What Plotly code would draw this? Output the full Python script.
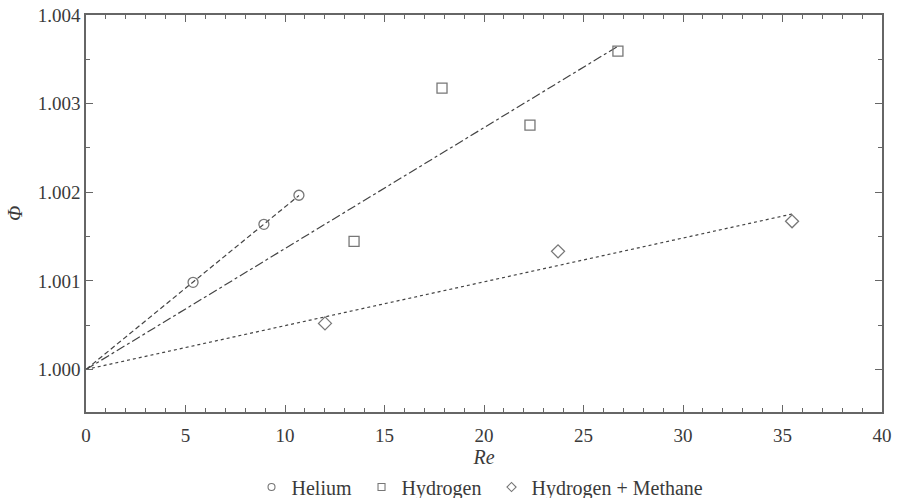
import numpy as np
import plotly.graph_objects as go

# Data
helium_re = [5.38, 8.94, 10.70]
helium_phi = [1.000983, 1.001638, 1.001966]

hydrogen_re = [13.47, 17.89, 22.31, 26.73]
hydrogen_phi = [1.001446, 1.003175, 1.002757, 1.003593]

hm_re = [12.01, 23.72, 35.48]
hm_phi = [1.000520, 1.001333, 1.001672]

x_ticks = [0, 5, 10, 15, 20, 25, 30, 35, 40]
y_ticks = [1.000, 1.001, 1.002, 1.003, 1.004]
y_tick_labels = ["1.000", "1.001", "1.002", "1.003", "1.004"]


def fit_through_origin(x, y):
    x = np.asarray(x)
    d = np.asarray(y) - 1.0
    k = float(np.sum(x * d) / np.sum(x * x))
    xs = [0.0, float(x.max())]
    return xs, [1.0 + k * v for v in xs]


FONT = "Liberation Serif, Times New Roman, serif"
TXT = "#3a3a3a"
MARK = "#777777"
LINEC = "#444444"
AX = "#666666"

fig = go.Figure()

series = [
    ("Helium", helium_re, helium_phi, "circle-open", "5px,3px", 10),
    ("Hydrogen", hydrogen_re, hydrogen_phi, "square-open", "dashdot", 10),
    ("Hydrogen + Methane", hm_re, hm_phi, "diamond-open", "dot", 10),
]

for name, xs, ys, sym, dash, size in series:
    fx, fy = fit_through_origin(xs, ys)
    fig.add_trace(go.Scatter(x=fx, y=fy, mode="lines", showlegend=False,
                             line=dict(color=LINEC, width=1.2, dash=dash),
                             hoverinfo="skip"))
for name, xs, ys, sym, dash, size in series:
    fig.add_trace(go.Scatter(x=xs, y=ys, mode="markers", name=name, showlegend=False,
                             marker=dict(symbol=sym, size=size, color=MARK,
                                         line=dict(color=MARK, width=1.3))))
# legend entries (smaller symbols, as in the reference legend)
legend_names = ["Helium\u00a0", "Hydrogen\u00a0", "Hydrogen + Methane"]
for (name, xs, ys, sym, dash, size), lname in zip(series, legend_names):
    fig.add_trace(go.Scatter(x=[None], y=[None], mode="markers", name=lname,
                             marker=dict(symbol=sym, size=7, color=MARK,
                                         line=dict(color=MARK, width=1.1))))

axis_common = dict(
    showgrid=False, zeroline=False, showline=True, linecolor=AX, linewidth=1.5,
    mirror="allticks", ticks="inside", ticklen=7, tickwidth=1.2, tickcolor=AX,
    tickfont=dict(family=FONT, size=19, color=TXT), automargin=False,
)

fig.update_xaxes(range=[0, 40], tickvals=x_ticks, ticklabelstandoff=5,
                 minor=dict(ticks="inside", dtick=1, ticklen=4, tickwidth=1.2, tickcolor=AX),
                 title=dict(text="<i>Re</i>", font=dict(family=FONT, size=20, color=TXT), standoff=5),
                 **axis_common)
fig.update_yaxes(range=[0.99952, 1.004], tickvals=y_ticks, ticktext=y_tick_labels,
                 minor=dict(ticks="inside", dtick=0.0005, tick0=1.0, ticklen=4, tickwidth=1.2, tickcolor=AX),
                 ticklabelstandoff=0,
                 title=dict(text="<i>Φ</i>", font=dict(family=FONT, size=20, color=TXT), standoff=10),
                 **axis_common)

fig.update_layout(
    width=897, height=498,
    margin=dict(l=86, r=15, t=15, b=86, autoexpand=False),
    paper_bgcolor="white", plot_bgcolor="white",
    font=dict(family=FONT, size=20, color=TXT),
    legend=dict(orientation="h", x=0.495, xanchor="center", y=-0.189, yanchor="middle",
                font=dict(family=FONT, size=20, color=TXT),
                itemwidth=30, tracegroupgap=0, bgcolor="rgba(0,0,0,0)"),
)

# remove the browser's default 8px body margin so the figure sits at the page origin
fig.write_html("out.html", config={"displayModeBar": False},
               post_script="document.body.style.margin='0px';")
